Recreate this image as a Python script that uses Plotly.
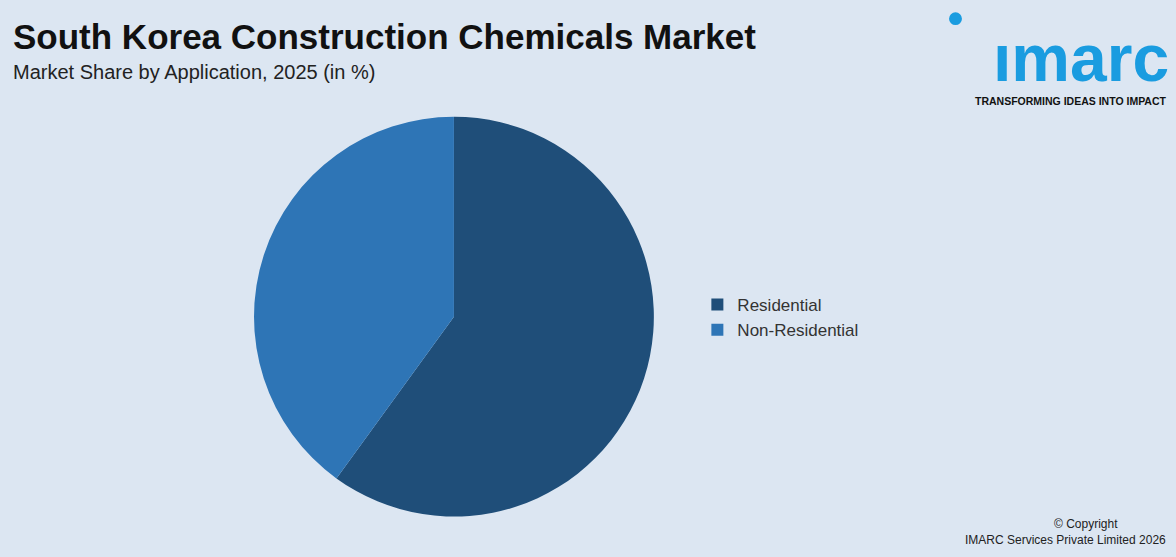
import plotly.graph_objects as go

labels = ["Residential", "Non-Residential"]
shares = [60, 40]
colors = ["#1f4e79", "#2e75b6"]

fig = go.Figure(go.Pie(
    labels=labels, values=shares, sort=False, direction="clockwise", rotation=0,
    marker=dict(colors=colors), textinfo="none", hoverinfo="label+percent",
    domain=dict(x=[0.216, 0.556], y=[0.071, 0.792]),
))

fig.update_layout(
    width=1176, height=557,
    paper_bgcolor="#dce6f2", plot_bgcolor="#dce6f2",
    margin=dict(l=0, r=0, t=0, b=0),
    font=dict(family="Liberation Sans, Arial, sans-serif", color="#222"),
    showlegend=True,
    legend=dict(x=0.593, y=0.43, xanchor="left", yanchor="middle",
                font=dict(size=17, color="#333"),
                itemwidth=30, bgcolor="rgba(0,0,0,0)"),
    annotations=[
        dict(text="<b>South Korea Construction Chemicals Market</b>", x=0.009, y=0.935,
             xref="paper", yref="paper", xanchor="left", yanchor="middle",
             showarrow=False, font=dict(size=35, color="#111")),
        dict(text="Market Share by Application, 2025 (in %)", x=0.009, y=0.87,
             xref="paper", yref="paper", xanchor="left", yanchor="middle",
             showarrow=False, font=dict(size=20, color="#222")),
        dict(text="<b>ımarc</b>", x=0.996, y=0.895, xref="paper", yref="paper",
             xanchor="right", yanchor="middle", showarrow=False,
             font=dict(size=66, color="#1a9ce0", family="Arial")),
        dict(text="<b>TRANSFORMING IDEAS INTO IMPACT</b>", x=0.994, y=0.818,
             xref="paper", yref="paper", xanchor="right", yanchor="middle",
             showarrow=False, font=dict(size=10.5, color="#111")),
        dict(text="© Copyright", x=0.952, y=0.06, xref="paper", yref="paper",
             xanchor="right", yanchor="middle", showarrow=False,
             font=dict(size=12, color="#222")),
        dict(text="IMARC Services Private Limited 2026", x=0.993, y=0.03,
             xref="paper", yref="paper", xanchor="right", yanchor="middle",
             showarrow=False, font=dict(size=12, color="#222")),
    ],
)
fig.add_shape(type="circle", xref="paper", yref="paper", x0=0.807, x1=0.818,
              y0=0.955, y1=0.978, fillcolor="#1a9ce0", line_width=0)

fig.write_html("out.html", config={"displayModeBar": False},
               post_script="document.body.style.margin='0';")
